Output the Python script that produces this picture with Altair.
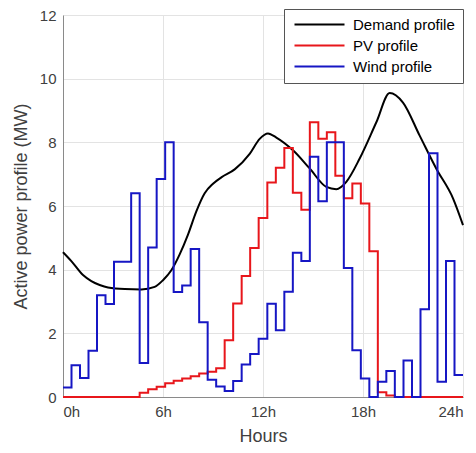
import altair as alt
import pandas as pd

# Step edges (hours) for the 47 stairs segments, plus the end point
step_hours = [0.0, 0.51, 1.02, 1.53, 2.04, 2.55, 3.06, 3.57, 4.09, 4.60, 5.11, 5.62,
              6.13, 6.64, 7.15, 7.66, 8.17, 8.68, 9.19, 9.70, 10.21, 10.72, 11.23, 11.74,
              12.26, 12.77, 13.28, 13.79, 14.30, 14.81, 15.32, 15.83, 16.34, 16.85, 17.36,
              17.87, 18.38, 18.89, 19.40, 19.91, 20.43, 20.94, 21.45, 21.96, 22.47, 22.98,
              23.49, 24.0]

pv_values = [0, 0, 0, 0, 0, 0, 0, 0, 0, 0.13, 0.24, 0.32, 0.43, 0.51, 0.58, 0.65, 0.74,
             0.79, 0.9, 1.78, 2.94, 3.8, 4.68, 5.62, 6.74, 7.2, 7.82, 6.42, 5.88, 8.63,
             8.11, 8.32, 6.95, 6.24, 6.71, 6.08, 4.58, 0.15, 0.05, 0, 0, 0, 0, 0, 0, 0, 0]

wind_values = [0.3, 1.0, 0.6, 1.45, 3.2, 2.92, 4.25, 4.25, 6.4, 1.07, 4.7, 6.85, 8.0,
               3.3, 3.5, 4.65, 2.35, 0.54, 0.33, 0.19, 0.5, 1.02, 1.35, 1.83, 2.93, 2.1,
               3.31, 4.53, 4.27, 7.55, 6.15, 8.0, 8.0, 4.05, 1.47, 0.58, 0, 0.48, 0.82, 0,
               1.15, 0, 2.76, 7.66, 0.48, 4.27, 0.69]

demand_hours = [0, 0.5, 1.2, 1.7, 2.2, 2.7, 3.7, 4.7, 5.5, 6.0, 6.5, 7.0, 7.5, 8.0, 8.5,
                9.0, 9.5, 10.3, 11.2, 11.8, 12.3, 12.8, 13.8, 14.8, 15.8, 16.4, 17.0, 17.8,
                18.8, 19.6, 20.4, 21.4, 22.4, 23.4, 24.0]
demand_values = [4.55, 4.27, 3.83, 3.64, 3.52, 3.44, 3.39, 3.38, 3.46, 3.67, 3.98, 4.48,
                 5.1, 5.83, 6.4, 6.7, 6.9, 7.15, 7.64, 8.11, 8.28, 8.15, 7.75, 7.18, 6.6,
                 6.53, 6.76, 7.49, 8.63, 9.55, 9.25, 8.21, 7.17, 6.24, 5.4]

series_names = ["Demand profile", "PV profile", "Wind profile"]
series_colors = ["#000000", "#e8161b", "#1616c4"]
x_ticks = [0, 6, 12, 18, 24]
y_ticks = [0, 2, 4, 6, 8, 10, 12]

df_d = pd.DataFrame({"h": demand_hours, "v": demand_values, "s": series_names[0]})
df_pv = pd.DataFrame({"h": step_hours, "v": pv_values + [pv_values[-1]], "s": series_names[1]})
df_w = pd.DataFrame({"h": step_hours, "v": wind_values + [wind_values[-1]], "s": series_names[2]})

x_enc = alt.X("h:Q", scale=alt.Scale(domain=[0, 24], nice=False, zero=False),
              axis=alt.Axis(values=x_ticks, labelExpr="datum.value + 'h'", title="Hours",
                            labelPadding=7, titlePadding=8))
y_enc = alt.Y("v:Q", scale=alt.Scale(domain=[0, 12], nice=False),
              axis=alt.Axis(values=y_ticks, title="Active power profile (MW)",
                            labelPadding=7, titlePadding=9))
color_enc = alt.Color("s:N", scale=alt.Scale(domain=series_names, range=series_colors),
                      legend=alt.Legend(title=None))

base_kwargs = dict(x=x_enc, y=y_enc, color=color_enc)

demand_line = alt.Chart(df_d).mark_line(strokeWidth=2, interpolate="monotone").encode(**base_kwargs)
pv_line = alt.Chart(df_pv).mark_line(strokeWidth=2, interpolate="step-after").encode(**base_kwargs)
wind_line = alt.Chart(df_w).mark_line(strokeWidth=2, interpolate="step-after").encode(**base_kwargs)

chart = (
    alt.layer(demand_line, pv_line, wind_line)
    .properties(width=400, height=382,
                autosize=alt.AutoSizeParams(type="none"),
                padding={"left": 55, "top": 7, "right": 5, "bottom": 48})
    .configure(background="white", font="Liberation Sans")
    .configure_view(stroke=None)
    .configure_axis(labelFont="Liberation Sans", labelFontSize=15, labelColor="#404040",
                    titleFont="Liberation Sans", titleFontSize=18, titleFontWeight="normal",
                    titleColor="#404040", gridColor="#e3e3e3", domainColor="#8a8a8a",
                    ticks=False)
    .configure_legend(orient="none", legendX=221, legendY=-6, padding=8,
                      strokeColor="#555555", fillColor="white", cornerRadius=0,
                      symbolType="M-1,0H9", symbolSize=100, symbolStrokeWidth=2,
                      labelFont="Liberation Sans", labelFontSize=15, labelColor="#000000",
                      labelOffset=46, rowPadding=5)
)

chart.save("out.html", embed_options={"renderer": "svg", "actions": False})
